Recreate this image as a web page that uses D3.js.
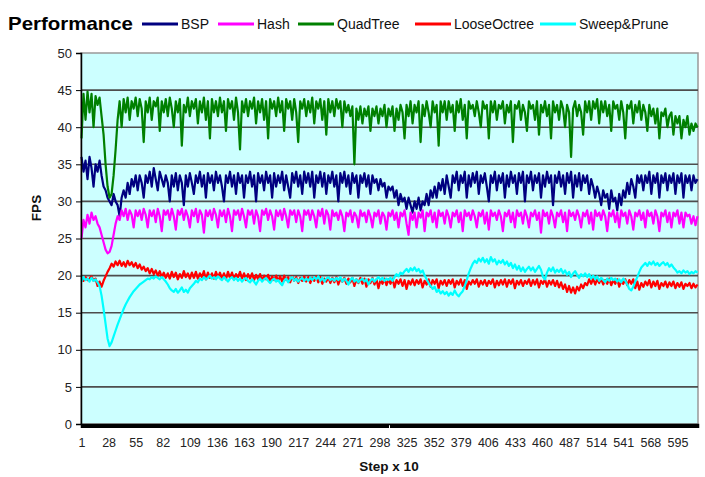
<!DOCTYPE html>
<html>
<head>
<meta charset="utf-8">
<script src="https://cdn.jsdelivr.net/npm/d3@7"></script>
<style>
  html, body { margin: 0; padding: 0; background: #ffffff; }
  svg { display: block; }
  text { font-family: "Liberation Sans", Arial, sans-serif; }
</style>
</head>
<body>
<svg id="chart" width="705" height="477"></svg>
<script>
// Frame rate per broad-phase method, sampled every second step (steps 1, 3, 5 ... 615)
const stepCount = 615;
const sampleEvery = 2;
const xTickLabels = [1, 28, 55, 82, 109, 136, 163, 190, 217, 244, 271, 298, 325, 352, 379, 406, 433, 460, 487, 514, 541, 568, 595];
const yTicks = [0, 5, 10, 15, 20, 25, 30, 35, 40, 45, 50];
const seriesNames = ["BSP", "Hash", "QuadTree", "LooseOctree", "Sweep&Prune"];
const seriesColors = ["#000080", "#ff00ff", "#008000", "#ff0000", "#00ffff"];

// one row per 28 steps
const bsp = [
  36, 34, 35.5, 33, 36, 34.5, 32, 35, 34, 35.5, 33.5, 32, 31.5, 30.5,
  30, 29.5, 31, 30, 29.5, 28, 30.5, 31.5, 30.5, 32.5, 31, 33, 32, 33.5,
  31.5, 33.5, 32.5, 30.5, 33.5, 32.5, 34, 32, 34.5, 33, 31.5, 34, 33, 32,
  33.5, 32.5, 30, 33.5, 32, 33.8, 31.5, 33.5, 32.5, 29.5, 33.5, 32, 33.8, 32.5,
  31, 33.5, 32.5, 34, 32, 33.5, 30.5, 33.8, 32.5, 33.5, 31.5, 34, 32.5, 33.5,
  32, 30, 33.5, 32.5, 34, 32, 33.5, 31, 33.8, 32.5, 33.5, 30.5, 33.5, 32.5,
  34, 32, 33.5, 30, 33.8, 32.5, 33.5, 31.5, 34, 32.5, 33.5, 30.5, 33.8, 32,
  33.5, 32.5, 34, 31.5, 33.5, 32, 30.5, 33.8, 32.5, 34, 32, 33.5, 31, 34,
  32.5, 33.8, 32, 34, 30.5, 33.5, 32.5, 34, 32, 33.8, 31, 33.5, 32.5, 34,
  32, 33.5, 30, 33.8, 32.5, 34, 32, 33.5, 31, 33.8, 32.5, 33.5, 30.5, 33.5,
  32.5, 33.8, 32, 33.5, 31, 33.5, 32.5, 33, 31.5, 33, 32, 32.5, 30.5, 32,
  31.5, 32, 30.5, 31.5, 29.5, 31, 30, 30.5, 29, 30.5, 29.5, 28.5, 30, 29,
  30.5, 28.8, 30, 29.5, 31, 29.5, 31.5, 30.5, 32, 30.5, 32.5, 31.5, 33, 31,
  33.5, 32, 30.5, 33.5, 32.5, 34, 31.5, 33.5, 32.5, 34, 30.5, 33.5, 32, 33.8,
  32.5, 34, 31, 33.5, 32.5, 33.8, 32, 30, 33.5, 32.5, 34, 31.5, 33.5, 32.5,
  33.8, 30.5, 33.5, 32, 34, 32.5, 33.5, 31, 33.8, 32.5, 34, 30, 33.5, 32.5,
  34, 31.5, 33.5, 32.5, 33.8, 30.5, 33.5, 32, 34, 32.5, 33.5, 29.5, 33.5, 32.5,
  34, 32, 33.5, 31, 33.8, 32.5, 34, 30.5, 33.5, 32, 33.8, 31.5, 33.5, 32.5,
  33.5, 31, 33, 32, 30.5, 32, 31, 29.5, 31.5, 30.5, 31, 29, 31.5, 30,
  30.5, 28.8, 31, 29.5, 31.5, 30.5, 32.5, 31, 33, 32, 30.5, 33.5, 32.5, 33.5,
  31.5, 33.5, 32.5, 34, 31, 33.5, 32.5, 33.8, 30.5, 33.5, 32.5, 33.8, 31.5, 33.5,
  32.5, 33.8, 31, 33.5, 32.5, 33.8, 30.5, 33.5, 32.5, 33.5, 31.5, 33.5, 32.5, 33
];

const hash = [
  25, 27.5, 26.5, 28.2, 27, 28.5, 27.5, 28, 27, 26.5, 25.5, 24.5, 23.5, 23,
  23.2, 24, 25.5, 27, 28, 27.5, 28.8, 28, 29, 27.5, 28.8, 28.2, 26.5, 28.8,
  28, 28.8, 27.5, 29, 28.2, 26.5, 28.8, 28, 28.8, 27.2, 29, 28, 26, 28.8,
  28.2, 28.8, 27.5, 29, 28, 26.2, 28.8, 28.2, 29, 27.5, 28.8, 28, 26.5, 28.8,
  28, 29, 27.2, 28.8, 28.2, 25.8, 28.8, 28, 28.8, 27.5, 29, 28.2, 26.5, 28.8,
  28, 28.8, 27.2, 29, 28, 26, 28.8, 28.2, 28.8, 27.5, 29, 28, 26.5, 28.8,
  28.2, 28.8, 27, 28.8, 28, 26, 28.8, 28.2, 29, 27.5, 28.8, 28, 26.2, 28.8,
  28, 28.8, 27.5, 29, 28, 26.5, 28.8, 28.2, 28.8, 27.2, 28.8, 28, 26, 28.8,
  28.2, 28.8, 27.5, 28.8, 28, 26.5, 28.8, 28, 29, 27, 28.8, 28.2, 26.2, 28.8,
  28, 28.5, 27.5, 28.8, 28, 26, 28.5, 28, 28.8, 27.2, 28.5, 28, 26.5, 28.8,
  28, 28.5, 27.2, 28.8, 28, 26.5, 28.5, 28, 28.8, 27, 28.5, 28, 26.2, 28.5,
  28, 28.8, 27.5, 28.5, 26.5, 28.5, 28, 28.8, 27, 25.5, 28.5, 27.5, 28.5, 26.5,
  28.5, 27.8, 28.8, 26, 28.5, 28, 28.8, 27.2, 28.5, 26.5, 28.8, 28, 28.5, 27,
  28.8, 28, 26.5, 28.5, 28, 28.8, 27.2, 28.5, 26, 28.8, 28, 28.5, 27.5, 28.8,
  28, 26.5, 28.5, 28, 28.8, 27, 28.5, 26.2, 28.8, 28, 28.5, 27.5, 28.8, 28,
  26, 28.5, 28, 28.8, 27.2, 28.5, 26.5, 28.8, 28, 28.5, 27, 28.8, 28, 26.5,
  28.5, 28, 28.8, 27.5, 28.5, 25.8, 28.8, 28, 28.5, 27, 28.8, 28, 26.5, 28.5,
  28, 28.8, 27.2, 28.5, 26, 28.8, 28, 28.5, 27.5, 28.8, 28, 26.5, 28.5, 28,
  28.8, 27, 28.5, 26.2, 28.8, 28, 28.5, 27.5, 28.8, 28, 26, 28.5, 28, 28.8,
  27.2, 28.5, 26.5, 28.8, 28, 28.5, 27, 28.8, 28, 26.2, 28.5, 28, 28.8, 27.5,
  28.5, 26.5, 28.8, 28, 28.5, 27, 28.8, 28, 26, 28.5, 28, 28.8, 27.2, 28.5,
  26.5, 28.5, 28, 28.8, 27, 28.5, 26.5, 28.5, 28, 28.2, 27, 28, 26.8, 28
];

const quadTree = [
  38.5, 44.5, 41, 44.8, 42, 44.5, 40, 44.2, 43, 44, 41.5, 39, 35, 32,
  30.5, 31, 33.5, 37, 41, 43.5, 40, 43.8, 42, 44, 41, 43.5, 42.5, 44,
  41.5, 43.8, 42.5, 38, 43.5, 42, 44, 41, 43.5, 42.8, 44, 39.5, 43.5, 42,
  43.8, 41.5, 44, 42.5, 40, 43.5, 42, 43.8, 37.5, 43, 42, 44, 41.5, 43.5,
  42.5, 43.8, 40.5, 43.5, 42, 44, 41, 43.5, 38.5, 43.8, 42, 43.5, 41.5, 44,
  42, 43.5, 39.5, 43.8, 42.5, 43.5, 41, 44, 42, 37, 43.5, 42, 43.8, 41.5,
  43.5, 42.5, 44, 40.5, 43.5, 42, 43.8, 41, 43.5, 38.5, 43.8, 42.5, 43.5, 41.5,
  44, 42, 43.5, 39.5, 43.8, 42.5, 43.5, 41, 43.8, 42, 38, 43.5, 42.5, 43.8,
  41.5, 43.5, 42, 44, 40.5, 43.5, 42.5, 43.8, 41, 43.5, 39, 43.8, 42, 43.5,
  41.5, 43.8, 42.5, 43.5, 40, 43.5, 42, 43, 41.5, 42.8, 35, 42.5, 41, 42.8,
  40.5, 42.5, 41.5, 42.8, 39.5, 42.5, 41.5, 42.8, 40.5, 42.5, 41.5, 43, 40, 42.5,
  41.5, 42.8, 39.5, 42.5, 41, 43, 42, 38.5, 43, 41.5, 43.5, 40.5, 43, 42,
  43.5, 38, 43, 41.5, 43.5, 42, 40, 43.5, 42, 43, 37.5, 43.5, 42, 43.5,
  41, 43.5, 42, 43, 39.5, 43.5, 42, 43.8, 41, 43, 38.5, 43.5, 42.5, 43,
  41.5, 43.5, 42, 40, 43.5, 42.5, 43, 38.5, 43.5, 42, 43.5, 41, 43, 42.5,
  43.5, 40.5, 43, 42, 43.5, 38, 43, 42.5, 43.5, 41, 43, 42, 39.5, 43.5,
  42.5, 43, 41, 43.5, 39, 43, 42, 43.5, 41.5, 43, 38.5, 43.5, 42, 43,
  41, 43.5, 42.5, 40, 43, 42, 36, 42.5, 43.5, 41.5, 43, 42, 39, 43.5,
  42, 43.5, 41, 43.5, 42.5, 43.8, 40.5, 43.5, 42, 43.5, 41.5, 43, 39.5, 43.5,
  42.5, 43, 41, 43.5, 42, 38.5, 43, 42.5, 43.5, 40.5, 43, 42, 43.5, 41,
  43, 42, 39.5, 43, 41.5, 42.5, 40.5, 42.5, 38.5, 42, 41.5, 42.5, 40, 41.5,
  42, 39, 41.5, 40.5, 41.5, 38.5, 41, 40, 41.5, 39, 40.5, 39.5, 40.5, 40
];

const looseOctree = [
  19.5, 19.3, 19.8, 19.4, 19.6, 19.9, 19.3, 19.6, 18.6, 19.2, 18.5, 19.3, 19.9, 20.5,
  21, 21.6, 21.2, 21.9, 21.4, 22, 21.3, 21.8, 21.2, 22, 21.4, 21.8, 21.2, 21.7,
  21, 21.5, 20.8, 21.2, 20.6, 21, 20.3, 20.9, 20.2, 20.7, 20, 20.6, 19.8, 20.4,
  19.7, 20.3, 19.6, 20.5, 19.8, 20.4, 19.5, 20.2, 19.7, 20.6, 19.8, 20.3, 19.6, 20.4,
  19.7, 20.5, 19.6, 20.3, 19.8, 20.6, 19.5, 20.4, 19.7, 20.3, 19.6, 20.5, 19.8, 20.4,
  19.6, 20.3, 19.5, 20.5, 19.7, 20.4, 19.5, 20.2, 19.8, 20.5, 19.6, 20.3, 19.4, 20.2,
  19.6, 20.3, 19.4, 20.1, 19.5, 20.2, 19.3, 20, 19.5, 20.1, 19.2, 19.9, 19.4, 20,
  19.3, 19.9, 19.2, 20, 19.4, 19.8, 19.1, 19.9, 19.3, 19.8, 19, 19.7, 19.3, 19.9,
  19.2, 19.8, 19, 19.7, 19.3, 19.9, 19.1, 19.8, 18.9, 19.6, 19.2, 19.8, 19, 19.7,
  19.1, 19.8, 18.8, 19.6, 19.2, 19.7, 18.9, 19.6, 19.1, 19.7, 18.6, 19.5, 19, 19.7,
  18.9, 19.6, 18.5, 19.5, 19, 19.7, 18.8, 19.5, 18.3, 19.4, 18.9, 19.6, 18.7, 19.5,
  18.9, 19.6, 18.4, 19.4, 18.9, 19.5, 18.6, 19.4, 18.2, 19.3, 18.8, 19.5, 18.7, 19.4,
  18.9, 19.5, 18.4, 19.3, 18.8, 19.5, 18.5, 19.4, 18.9, 19.5, 18.3, 19.3, 18.8, 19.4,
  18.6, 19.4, 18.9, 19.5, 18.4, 19.3, 18.8, 19.5, 18.6, 19.4, 18.2, 19.2, 18.8, 19.4,
  18.9, 19.5, 18.5, 19.3, 18.8, 19.4, 18.6, 19.3, 18.9, 19.5, 18.4, 19.3, 18.7, 19.4,
  18.8, 19.5, 18.5, 19.4, 18.9, 19.5, 18.3, 19.3, 18.8, 19.4, 18.6, 19.3, 18.9, 19.5,
  18.6, 19.4, 18.8, 19.5, 18.4, 19.3, 18.9, 19.5, 18.5, 19.3, 18.8, 19.4, 18.6, 19.3,
  18.4, 19.1, 18.2, 18.8, 17.8, 18.6, 17.7, 18.4, 17.6, 18.5, 18, 18.8, 18.3, 19,
  18.7, 19.5, 18.9, 19.6, 18.8, 19.5, 19, 19.6, 18.8, 19.4, 18.9, 19.6, 18.7, 19.4,
  18.9, 19.5, 18.5, 19.3, 18.9, 19.5, 18.7, 19.4, 18.9, 19.5, 18.3, 19.2, 18.1, 19,
  18.5, 19.2, 18.7, 19.4, 18.4, 19.2, 18.6, 19.3, 18.2, 19, 18.6, 19.2, 18.4, 19.1,
  18.6, 19.2, 18.3, 19, 18.5, 19.1, 18.2, 18.9, 18.6, 19, 18.3, 18.9, 18.4, 18.8
];

const sweepPrune = [
  19.2, 19.8, 19.4, 19.6, 19.2, 19.7, 19.3, 19.5, 19.1, 18.6, 17.3, 15.5, 13.5, 11.5,
  10.5, 11, 11.8, 12.6, 13.4, 14.1, 14.8, 15.5, 16.1, 16.6, 17.1, 17.5, 17.9, 18.2,
  18.5, 18.8, 19, 19.2, 19.4, 19.6, 19.5, 19.8, 19.6, 19.9, 19.7, 19.5, 19.8, 19.5,
  19.2, 18.8, 18.3, 18, 17.8, 18.2, 17.7, 18, 18.4, 17.8, 18.1, 17.7, 18.3, 18.6,
  18.9, 19.3, 19.1, 19.6, 19.4, 19.8, 19.5, 19.7, 20, 19.6, 19.8, 19.5, 19.9, 19.6,
  19.4, 19.8, 19.5, 19.2, 19.6, 19.8, 19.4, 19.7, 19.3, 19.6, 19.2, 19.5, 19.7, 19.3,
  19.1, 19.5, 19.2, 18.8, 19.3, 19.6, 19.2, 19.5, 19.7, 19.3, 19, 19.4, 19.6, 19.2,
  19.4, 19, 18.7, 19.3, 19.6, 19.1, 19.5, 19.8, 19.3, 19.6, 19.2, 19.5, 19.7, 19.3,
  19.6, 19.3, 19.7, 19.4, 19.8, 19.5, 19.9, 19.3, 19.7, 19.2, 19.6, 19.8, 19.4, 19.6,
  19.3, 19.7, 19.4, 19.8, 19.2, 19.6, 19.3, 18.8, 19.4, 19.7, 19.2, 19.5, 19.1, 19.4,
  19.6, 19.2, 19.5, 18.8, 19.3, 19.6, 19.2, 19.5, 19.8, 19.4, 19.7, 19.3, 19.6, 19.4,
  19.7, 19.3, 19.8, 20.2, 19.9, 20.4, 20.2, 20.6, 20.9, 20.5, 21, 20.7, 21.1, 20.6,
  20.9, 20.4, 20.7, 20, 19.5, 19, 18.6, 18.2, 18.5, 17.8, 18.1, 17.6, 17.9, 17.5,
  17.8, 17.3, 17.7, 17.4, 18, 17.5, 17.2, 17.6, 17.9, 18.6, 19.4, 20.3, 21, 21.6,
  22, 21.7, 22.3, 21.9, 22.4, 21.8, 22.2, 21.6, 22.5, 21.9, 22.2, 21.5, 22, 21.7,
  22.1, 21.5, 21.9, 21.3, 21.7, 21, 21.5, 20.8, 21.3, 20.6, 21.1, 20.5, 20.9, 21.2,
  20.7, 21.1, 20.5, 20.9, 21.3, 20.8, 19.8, 19.5, 20.4, 21, 20.6, 21.1, 20.4, 20.8,
  20.5, 20.9, 20.3, 20.7, 20.1, 20.5, 19.8, 20.3, 20.6, 20.1, 19.7, 20.2, 19.9, 20.3,
  19.8, 20.2, 19.6, 20, 19.5, 19.9, 19.3, 19.7, 19.4, 19.1, 19.6, 19.3, 19.7, 19.4,
  19.6, 19.2, 19.5, 19.1, 19.6, 19.3, 18.8, 18.2, 18, 18.5, 19.2, 19.8, 20.5, 21.1,
  21.4, 21.7, 21.3, 21.8, 21.5, 21.9, 21.4, 21.7, 21.3, 21.6, 21.8, 21.4, 21.7, 21.2,
  21.5, 21.1, 20.8, 20.4, 20.6, 20.3, 20.7, 20.4, 20.6, 20.2, 20.5, 20.3, 20.6, 20.4
];

const seriesValues = [bsp, hash, quadTree, looseOctree, sweepPrune];

const svg = d3.select("#chart");
const plot = { left: 81, right: 698, top: 53, bottom: 424 };

const x = d3.scaleLinear().domain([0.5, stepCount + 0.5]).range([plot.left, plot.right]);
const y = d3.scaleLinear().domain([0, 50]).range([plot.bottom, plot.top]);

// plot background
svg.append("rect")
  .attr("x", plot.left).attr("y", plot.top)
  .attr("width", plot.right - plot.left).attr("height", plot.bottom - plot.top)
  .attr("fill", "#ccffff").attr("stroke", "#999999").attr("stroke-width", 1.5);

// horizontal gridlines
svg.append("g").selectAll("line")
  .data(yTicks.filter(v => v > 0 && v < 50))
  .join("line")
  .attr("x1", plot.left).attr("x2", plot.right)
  .attr("y1", d => y(d)).attr("y2", d => y(d))
  .attr("stroke", "#4d4d4d").attr("stroke-width", 1.6);

// series lines
const line = d3.line()
  .x((d, i) => x(1 + i * sampleEvery))
  .y(d => y(d));

svg.append("g").selectAll("path")
  .data(seriesValues)
  .join("path")
  .attr("d", d => line(d))
  .attr("fill", "none")
  .attr("stroke", (d, i) => seriesColors[i])
  .attr("stroke-width", 2.2)
  .attr("stroke-linejoin", "round");

// y axis
const yAxis = svg.append("g")
  .attr("transform", `translate(${plot.left},0)`)
  .call(d3.axisLeft(y).tickValues(yTicks).tickSize(5).tickPadding(4));
yAxis.select(".domain").attr("stroke", "#000").attr("stroke-width", 1.5);
yAxis.selectAll(".tick line").attr("stroke", "#000");
yAxis.selectAll(".tick text")
  .attr("font-size", 13).attr("fill", "#222")
  .attr("font-family", "Liberation Sans, Arial, sans-serif");

// x axis: one tick per category gives the dense black band
const xBand = svg.append("g")
  .attr("transform", `translate(0,${plot.bottom})`)
  .call(d3.axisBottom(x).tickValues(d3.range(1, stepCount + 1)).tickSize(4).tickFormat(""));
xBand.select(".domain").attr("stroke", "#000").attr("stroke-width", 1.5);
xBand.selectAll(".tick line").attr("stroke", "#000").attr("shape-rendering", "crispEdges");

// x axis labels every 27 categories
const xLabels = svg.append("g")
  .attr("transform", `translate(0,${plot.bottom})`)
  .call(d3.axisBottom(x).tickValues(xTickLabels).tickSize(0).tickPadding(14));
xLabels.select(".domain").remove();
xLabels.selectAll(".tick text")
  .attr("font-size", 12.5).attr("fill", "#222")
  .attr("font-family", "Liberation Sans, Arial, sans-serif");

// axis titles
svg.append("text")
  .attr("x", 389).attr("y", 471)
  .attr("text-anchor", "middle")
  .attr("font-size", 13.5).attr("font-weight", "bold").attr("fill", "#111")
  .text("Step x 10");

svg.append("text")
  .attr("transform", "translate(41,208) rotate(-90)")
  .attr("text-anchor", "middle")
  .attr("font-size", 13.5).attr("font-weight", "bold").attr("fill", "#111")
  .text("FPS");

// title and inline legend
svg.append("text")
  .attr("x", 8).attr("y", 30)
  .attr("font-size", 19).attr("font-weight", "bold").attr("fill", "#000")
  .attr("textLength", 125).attr("lengthAdjust", "spacingAndGlyphs")
  .text("Performance");

const legendX = [142, 218, 298, 415, 540];
const legend = svg.append("g").selectAll("g")
  .data(seriesNames)
  .join("g")
  .attr("transform", (d, i) => `translate(${legendX[i]},24)`);
legend.append("line")
  .attr("x1", 0).attr("x2", 36).attr("y1", 0).attr("y2", 0)
  .attr("stroke", (d, i) => seriesColors[i]).attr("stroke-width", 3);
legend.append("text")
  .attr("x", 39).attr("y", 5)
  .attr("font-size", 14).attr("fill", "#111")
  .text(d => d);
</script>
</body>
</html>
